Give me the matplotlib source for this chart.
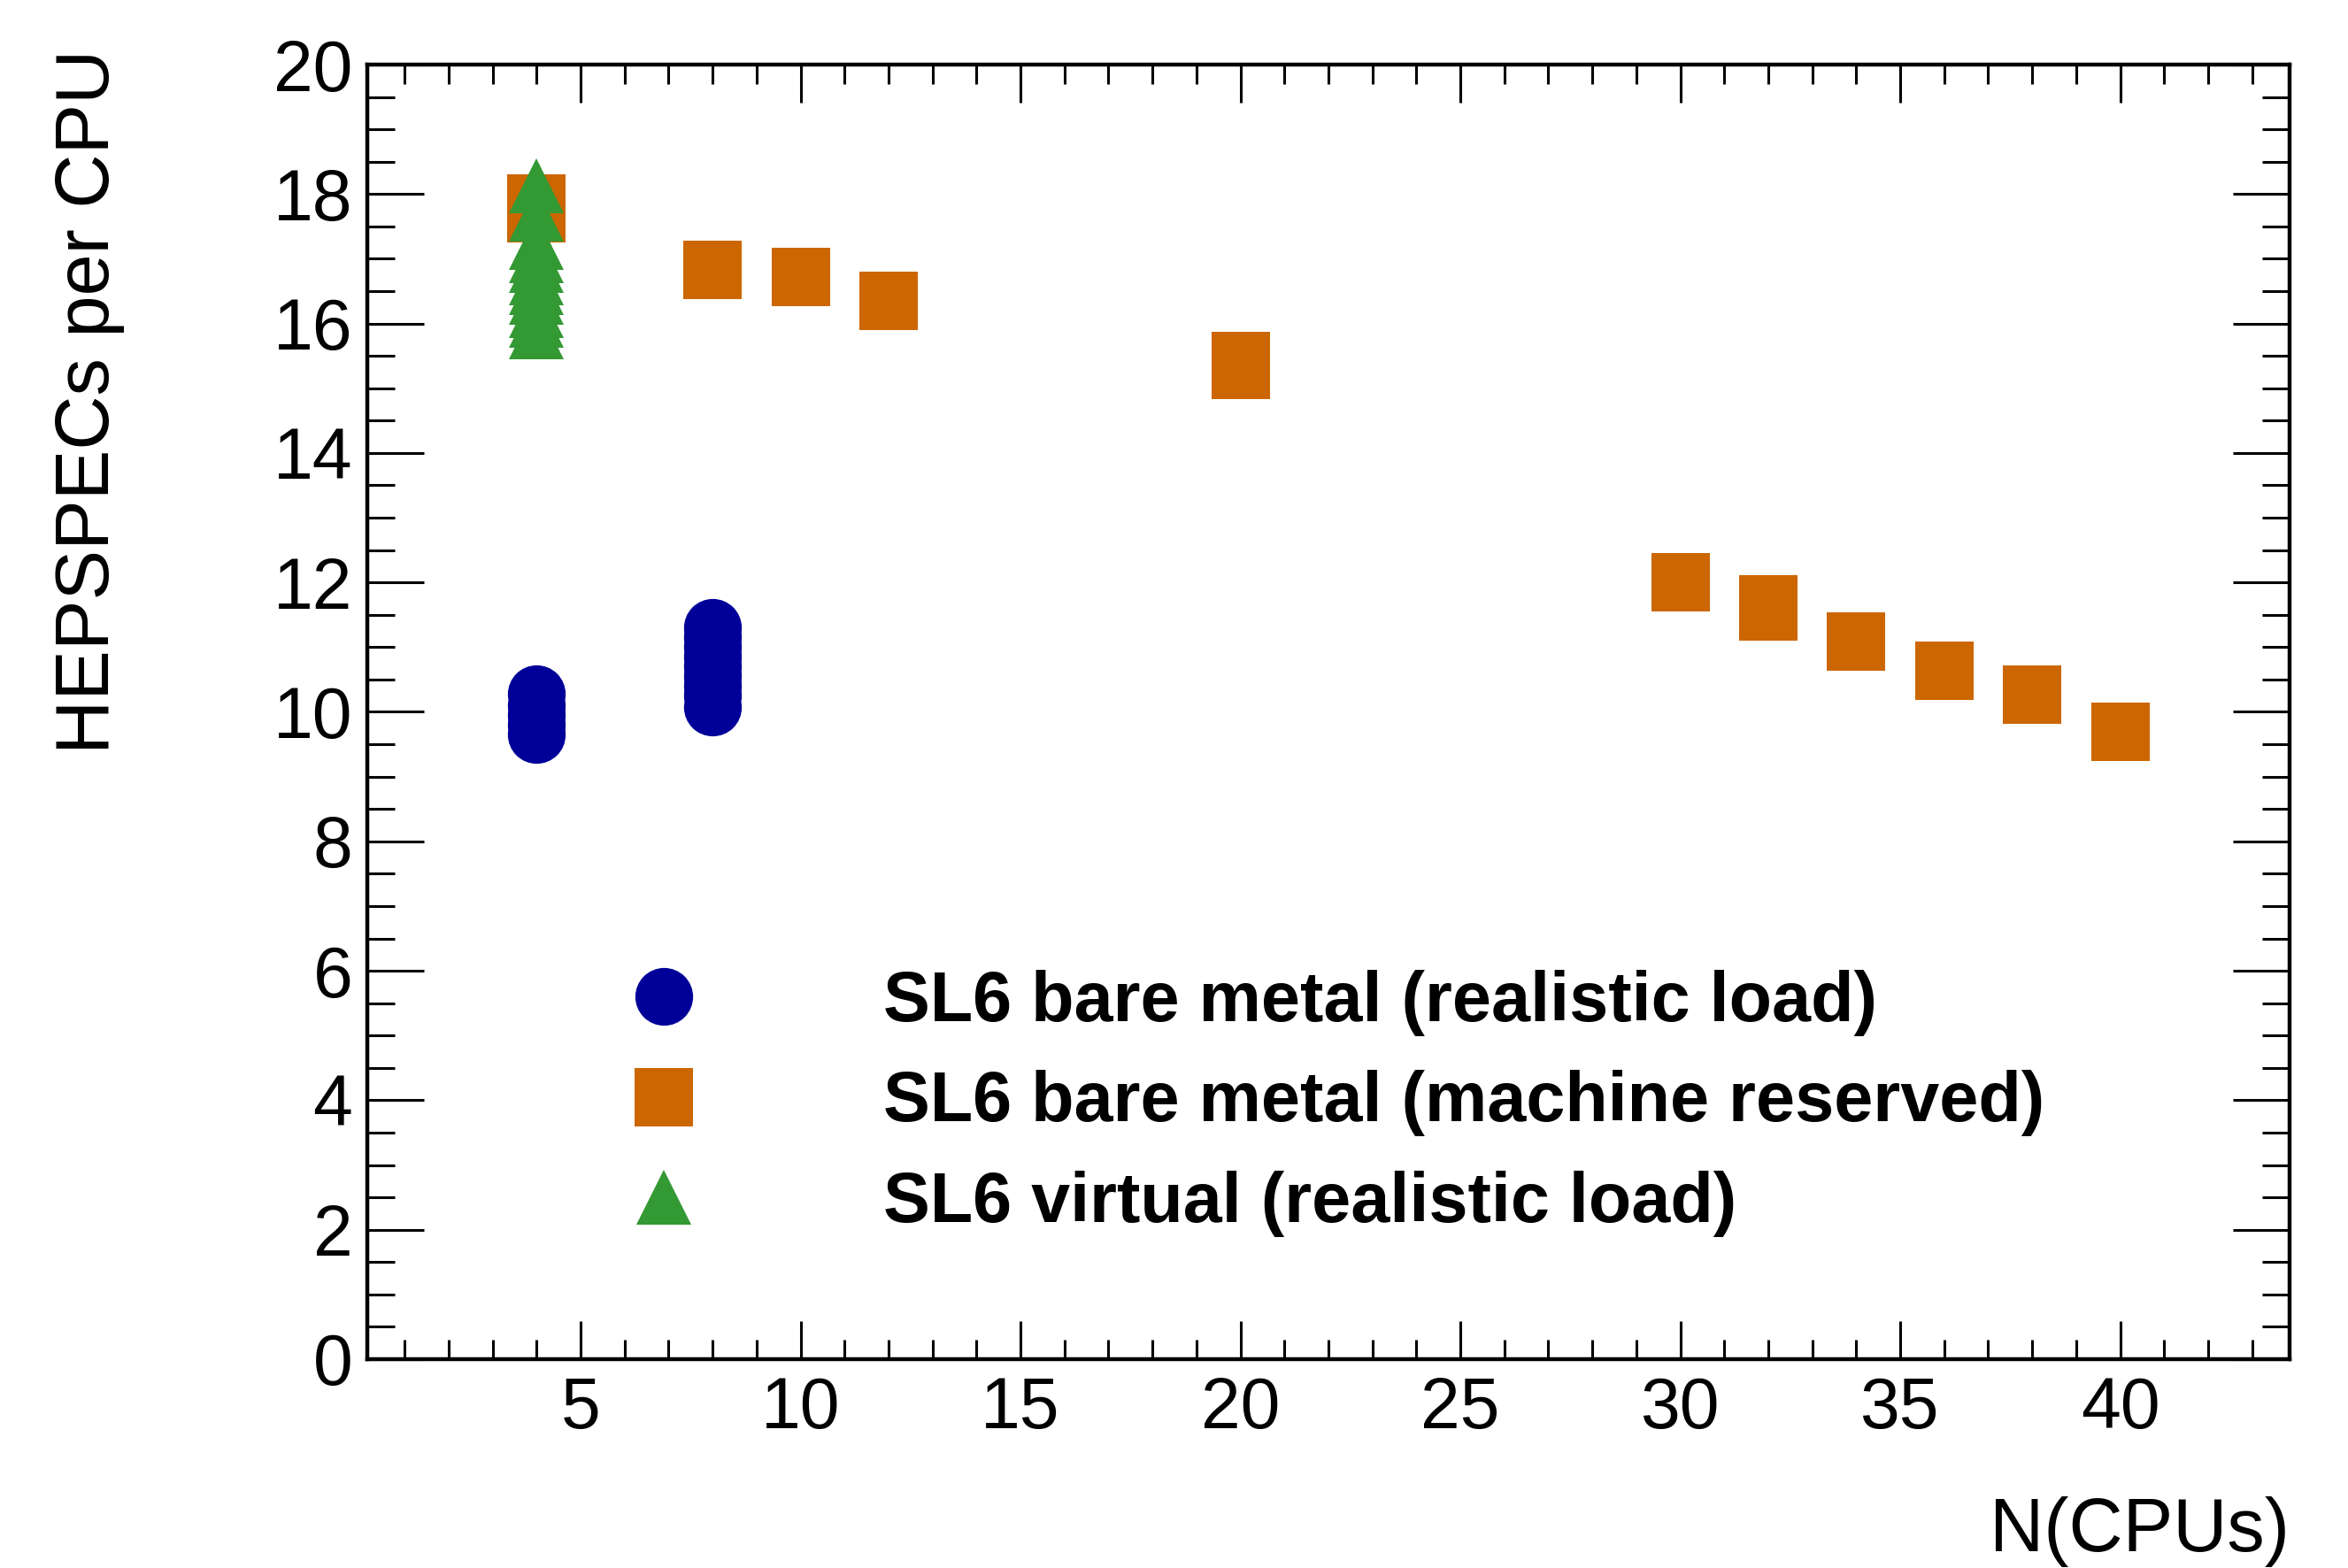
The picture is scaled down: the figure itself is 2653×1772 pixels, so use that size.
import matplotlib
matplotlib.use("Agg")
import matplotlib.pyplot as plt
from matplotlib.ticker import MultipleLocator

plt.rcParams['font.family'] = ['Liberation Sans', 'DejaVu Sans']

bare_real_x = [4, 4, 4, 4, 4, 8, 8, 8, 8, 8, 8, 8, 8, 8]
bare_real_y = [9.65, 9.8, 9.95, 10.1, 10.28,
               10.07, 10.25, 10.4, 10.55, 10.7, 10.85, 11.0, 11.15, 11.31]

bare_reserved_x = [4, 4, 8, 10, 12, 20, 20, 30, 32, 32, 34, 36, 38, 40]
bare_reserved_y = [17.7, 17.86, 16.83, 16.72, 16.35, 15.42, 15.29,
                   12.0, 11.66, 11.55, 11.08, 10.63, 10.27, 9.69]

virtual_real_x = [4, 4, 4, 4, 4, 4, 4, 4, 4, 4, 4]
virtual_real_y = [18.13, 17.69, 17.25, 17.05, 16.9, 16.7, 16.55,
                  16.4, 16.2, 16.05, 15.87]

labels = ["SL6 bare metal (realistic load)",
          "SL6 bare metal (machine reserved)",
          "SL6 virtual (realistic load)"]

blue = '#000099'
orange = '#cc6600'
green = '#339933'

fig = plt.figure(figsize=(26.53, 17.72), dpi=100)
ax = fig.add_axes([0.1564, 0.1332, 0.8187, 0.8256])

ms = 47
ax.plot(bare_real_x, bare_real_y, 'o', color=blue, ms=ms, mew=0, label=labels[0])
ax.plot(bare_reserved_x, bare_reserved_y, 's', color=orange, ms=ms, mew=0, label=labels[1])
ax.plot(virtual_real_x, virtual_real_y, '^', color=green, ms=45, mew=0, label=labels[2])

ax.set_xlim(0.15, 43.85)
ax.set_ylim(0, 20)

ax.xaxis.set_major_locator(MultipleLocator(5))
ax.xaxis.set_minor_locator(MultipleLocator(1))
ax.yaxis.set_major_locator(MultipleLocator(2))
ax.yaxis.set_minor_locator(MultipleLocator(0.5))
ax.set_xticks([5, 10, 15, 20, 25, 30, 35, 40])

ax.tick_params(axis='both', which='both', direction='in', top=True, right=True, width=2.2)
ax.tick_params(axis='x', which='major', length=31, pad=14, labelsize=58)
ax.tick_params(axis='x', which='minor', length=16)
ax.tick_params(axis='y', which='major', length=46, pad=12, labelsize=58)
ax.tick_params(axis='y', which='minor', length=22)
for s in ax.spines.values():
    s.set_linewidth(3.2)

ax.set_xlabel("N(CPUs)", fontsize=61, loc='right')
ax.xaxis.set_label_coords(1.0, -0.106)
ax.set_ylabel("HEPSPECs per CPU", fontsize=61, loc='top')
ax.yaxis.set_label_coords(-0.126, 1.012)

ax.legend(loc='upper left', bbox_to_anchor=(0.127, 0.301), frameon=False,
          prop={'size': 57, 'weight': 'bold'}, borderpad=0, borderaxespad=0,
          handlelength=1.5, handletextpad=2.38, labelspacing=0.49, numpoints=1)

fig.savefig("out.png", dpi=100)
